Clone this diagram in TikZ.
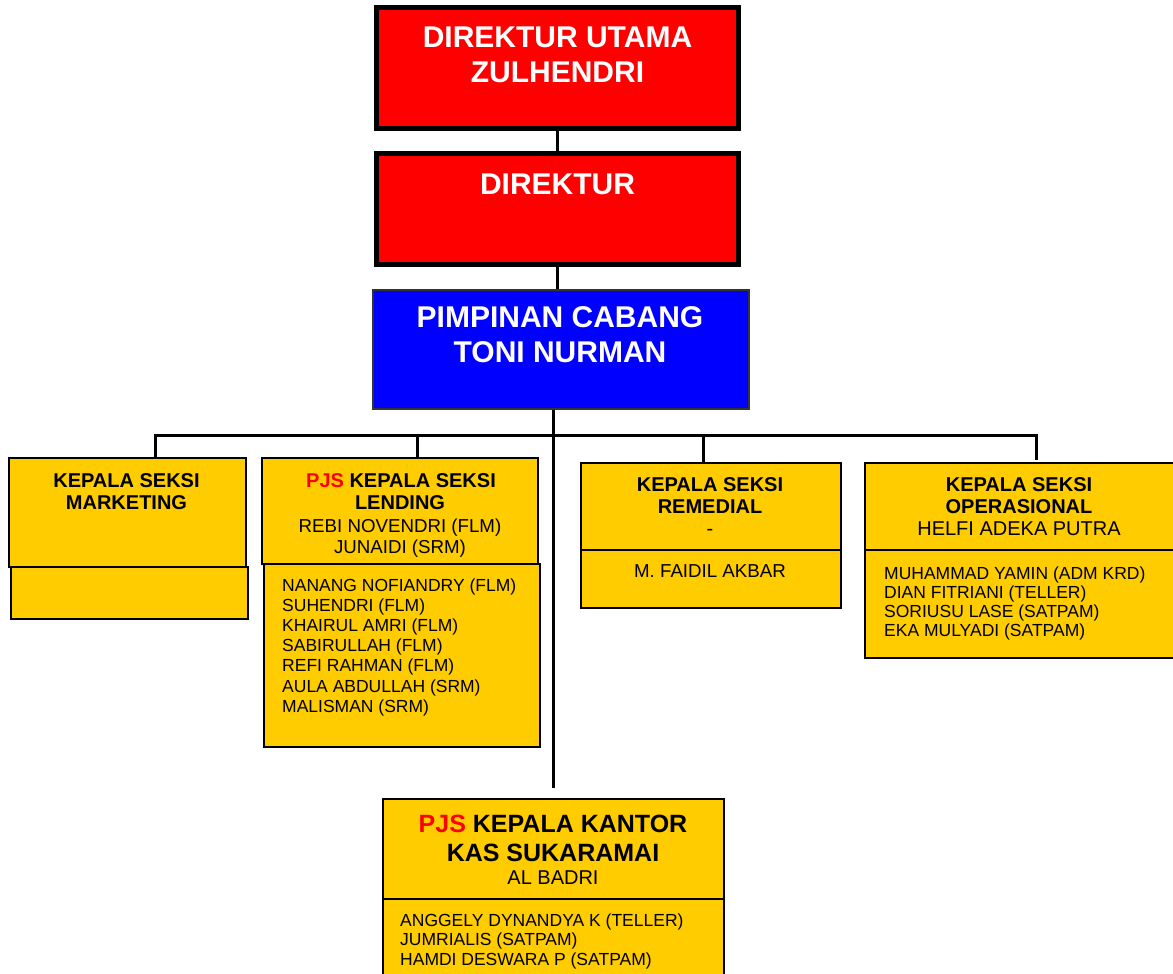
\documentclass[tikz,border=0pt]{standalone}
\usepackage{fontspec}
\setmainfont{Liberation Sans}
\definecolor{kuning}{HTML}{FFCC00}
\definecolor{merah}{HTML}{FF0000}
\definecolor{biru}{HTML}{0000FF}
\begin{document}
\begin{tikzpicture}[x=1pt,y=-1pt,
  redbox/.style={draw=black, line width=5pt, fill=merah, rectangle, inner sep=0pt, anchor=north west},
  bluebox/.style={draw=black!80, line width=1.5pt, fill=biru, rectangle, inner sep=0pt, anchor=north west},
  ybox/.style={draw=black, line width=1.5pt, fill=kuning, rectangle, inner sep=0pt, anchor=north west},
  conn/.style={line width=3pt, black},
  bigt/.style={font=\fontsize{30}{30}\selectfont\bfseries, text=white, anchor=base, inner sep=0pt},
  headt/.style={font=\fontsize{20}{20}\selectfont\bfseries, anchor=base, inner sep=0pt},
  kkt/.style={font=\fontsize{25}{25}\selectfont\bfseries, anchor=base, inner sep=0pt},
  namet/.style={font=\fontsize{20}{20}\selectfont, anchor=base, inner sep=0pt},
  subt/.style={font=\fontsize{18.7}{18.7}\selectfont, anchor=base, inner sep=0pt},
  listt/.style={font=\fontsize{17.5}{17.5}\selectfont, anchor=base west, inner sep=0pt}
]
\useasboundingbox (0,0) rectangle (1173,974);

\coordinate (b1) at (155,435);
\coordinate (b2) at (417,435);
\coordinate (b3) at (703,435);
\coordinate (b4) at (1036,435);

% boxes
\node[redbox, minimum width=362pt, minimum height=121pt] (du) at (374,5) {};
\node[redbox, minimum width=362pt, minimum height=111pt] (dir) at (374,151) {};
\node[bluebox, minimum width=376pt, minimum height=119pt] (pc) at (372,289) {};

\node[ybox, minimum width=237pt, minimum height=109pt] (mk) at (8,457) {};
\node[ybox, minimum width=237pt, minimum height=52pt] (mkb) at (10,566) {};

\node[ybox, minimum width=276pt, minimum height=106pt] (ld) at (261,457) {};
\node[ybox, minimum width=276pt, minimum height=183pt] (ldb) at (263,563) {};

\node[ybox, minimum width=260pt, minimum height=87pt] (rm) at (580,462) {};
\node[ybox, minimum width=260pt, minimum height=58pt] (rmb) at (580,549) {};

\node[ybox, minimum width=312pt, minimum height=87pt] (op) at (864,462) {};
\node[ybox, minimum width=312pt, minimum height=108pt] (opb) at (864,549) {};

\node[ybox, minimum width=341pt, minimum height=100pt] (kk) at (382,798) {};
\node[ybox, minimum width=341pt, minimum height=90pt] (kkb) at (382,898) {};

% connectors
\draw[conn] (du.south) -- (dir.north);
\draw[conn] (dir.south) -- (dir.south |- pc.north);
\draw[conn] (kk.north |- pc.south) -- ([yshift=10pt]kk.north);
\draw[conn] (b1 |- mk.north) -- (b1) -- (b4) -- ([yshift=2pt]b4 |- op.north);
\draw[conn] (b2) -- (b2 |- ld.north);
\draw[conn] (b3) -- (b3 |- rm.north);

% texts top
\node[bigt] (t1) at (557.5,48) {DIREKTUR UTAMA};
\node[bigt] (t2) at (557.5,83) {ZULHENDRI};
\node[bigt] (t3) at (557.5,194) {DIREKTUR};
\node[bigt] (t4) at (560,327) {PIMPINAN CABANG};
\node[bigt] (t5) at (560,362) {TONI NURMAN};

% marketing
\node[headt] (m1) at (126.5,487) {KEPALA SEKSI};
\node[headt] (m2) at (126.5,509) {MARKETING};

% lending
\node[headt] (l1) at (401,487) {\textcolor{merah}{PJS} KEPALA SEKSI};
\node[headt] (l2) at (400,509) {LENDING};
\node[subt] (l3) at (400,532) {REBI NOVENDRI (FLM)};
\node[subt] (l4) at (400,553) {JUNAIDI (SRM)};
\foreach \t [count=\i] in {{NANANG NOFIANDRY (FLM)},{SUHENDRI (FLM)},{KHAIRUL AMRI (FLM)},{SABIRULLAH (FLM)},{REFI RAHMAN (FLM)},{AULA ABDULLAH (SRM)},{MALISMAN (SRM)}}
  \node[listt] (ll\i) at ({282},{591+20.2*(\i-1)}) {\t};

% remedial
\node[headt] (r1) at (710,491) {KEPALA SEKSI};
\node[headt] (r2) at (710,513) {REMEDIAL};
\node[namet] (r3) at (710,535) {-};
\node[subt] (r4) at (710,577) {M. FAIDIL AKBAR};

% operasional
\node[headt] (o1) at (1019,491) {KEPALA SEKSI};
\node[headt] (o2) at (1019,513) {OPERASIONAL};
\node[namet] (o3) at (1019,535) {HELFI ADEKA PUTRA};
\foreach \t [count=\i] in {{MUHAMMAD YAMIN (ADM KRD)},{DIAN FITRIANI (TELLER)},{SORIUSU LASE (SATPAM)},{EKA MULYADI (SATPAM)}}
  \node[listt] (ol\i) at ({884},{579+19*(\i-1)}) {\t};

% kantor kas
\node[kkt] (k1) at (553,832) {\textcolor{merah}{PJS} KEPALA KANTOR};
\node[kkt] (k2) at (553,861) {KAS SUKARAMAI};
\node[namet] (k3) at (553,884) {AL BADRI};
\foreach \t [count=\i] in {{ANGGELY DYNANDYA K (TELLER)},{JUMRIALIS (SATPAM)},{HAMDI DESWARA P (SATPAM)}}
  \node[listt] (kl\i) at ({400},{926+19.5*(\i-1)}) {\t};
\end{tikzpicture}
\end{document}
